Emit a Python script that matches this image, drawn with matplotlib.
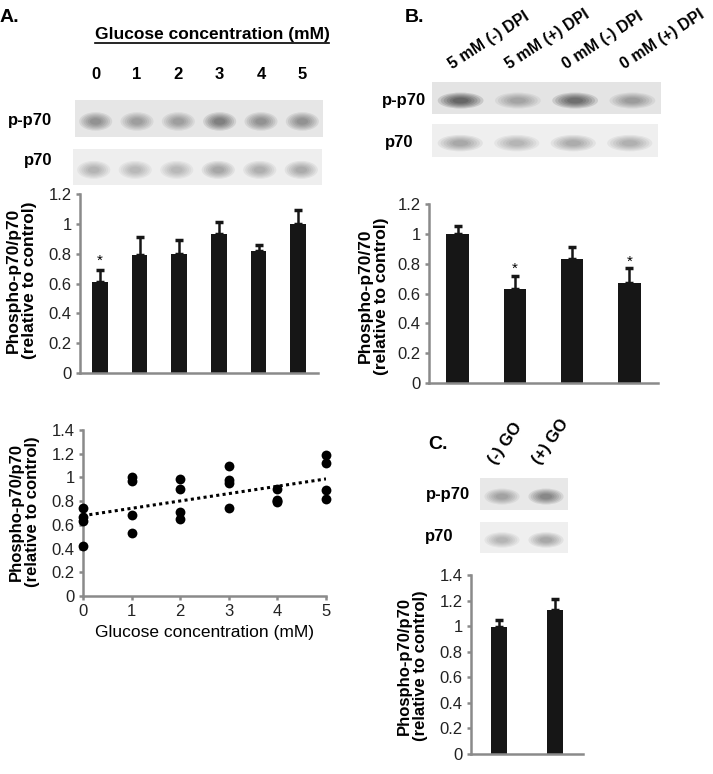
import numpy as np
import matplotlib.pyplot as plt
from matplotlib.patches import Ellipse, Rectangle

plt.rcParams['font.family'] = ['Liberation Sans', 'DejaVu Sans']

# Panel A - glucose dose response
glucose = [0, 1, 2, 3, 4, 5]
a_means = [0.61, 0.79, 0.80, 0.93, 0.82, 1.00]
a_err = [0.08, 0.12, 0.09, 0.08, 0.035, 0.09]
a_points = [[0.74, 0.67, 0.63, 0.42],
            [1.00, 0.97, 0.68, 0.53],
            [0.99, 0.90, 0.71, 0.65],
            [1.10, 0.98, 0.95, 0.74],
            [0.90, 0.81, 0.80, 0.79],
            [1.19, 1.12, 0.89, 0.82]]
a_pp70_bands = [0.35, 0.30, 0.30, 0.45, 0.35, 0.35]
a_p70_bands = [0.22, 0.20, 0.20, 0.28, 0.24, 0.26]

# Panel B - DPI treatment
b_labels = ['5 mM (-) DPI', '5 mM (+) DPI', '0 mM (-) DPI', '0 mM (+) DPI']
b_means = [1.00, 0.63, 0.83, 0.67]
b_err = [0.055, 0.09, 0.08, 0.10]
b_pp70_bands = [0.60, 0.25, 0.55, 0.30]
b_p70_bands = [0.28, 0.22, 0.26, 0.24]

# Panel C - glucose oxidase
c_labels = ['(-) GO', '(+) GO']
c_means = [0.99, 1.13]
c_err = [0.055, 0.085]
c_pp70_bands = [0.28, 0.42]
c_p70_bands = [0.22, 0.28]

W, H = 713, 774
fig = plt.figure(figsize=(W / 100, H / 100), dpi=100)
GRAY = '#8a8a8a'
BAR = '#161616'


def px_axes(x0, y0, x1, y1):
    return fig.add_axes([x0 / W, 1 - y1 / H, (x1 - x0) / W, (y1 - y0) / H])


def ftext(x, y, s, **kw):
    return fig.text(x / W, 1 - y / H, s, **kw)


def draw_blot(ax, levels, bg):
    n = len(levels)
    ax.set_xlim(-0.5, n - 0.5)
    ax.set_ylim(0, 1)
    ax.axis('off')
    ax.add_patch(Rectangle((-0.5, 0), n, 1, color=bg, lw=0))
    for i, lv in enumerate(levels):
        for k in range(6):
            sc = 1 - k * 0.13
            ax.add_patch(Ellipse((i, 0.42), 0.8 * sc, 0.5 * sc, color='k',
                                 alpha=lv / 5, lw=0))


def style(ax, fs=12):
    for s in ['top', 'right']:
        ax.spines[s].set_visible(False)
    for s in ['left', 'bottom']:
        ax.spines[s].set_color(GRAY)
        ax.spines[s].set_linewidth(1.8)
    ax.tick_params(direction='out', length=3, width=1.8, color=GRAY,
                   labelsize=fs, labelcolor='#222222', pad=3)
    ax.yaxis.set_major_formatter(plt.FuncFormatter(lambda v, p: f'{v:g}'))


def bars(ax, means, err, width):
    x = np.arange(len(means))
    ax.bar(x, means, width=width, color=BAR, zorder=2)
    ax.errorbar(x, means, yerr=[np.zeros(len(err)), err], fmt='none',
                ecolor=BAR, elinewidth=1.8, capsize=3, capthick=2.5, zorder=2)
    ax.set_xlim(-0.5, len(means) - 0.5)
    ax.set_xticks([])


# ---------- A: blots ----------
ftext(0, 18, 'A.', fontsize=14, fontweight='bold', va='center')
ftext(212, 35, 'Glucose concentration (mM)', fontsize=12.5, fontweight='bold',
      ha='center', va='center')
fig.add_artist(plt.Line2D([95 / W, 329 / W], [1 - 43 / H, 1 - 43 / H],
                          color='k', lw=1.2))
ax = px_axes(75, 100, 323, 137)
draw_blot(ax, a_pp70_bands, '#e6e6e6')
for i, g in enumerate(glucose):
    ax.text(i, 1.68, str(g), ha='center', va='center', fontsize=12,
            fontweight='bold')
ax = px_axes(73, 149, 322, 185)
draw_blot(ax, a_p70_bands, '#eeeeee')
ftext(52, 120, 'p-p70', fontsize=12, fontweight='bold', ha='right', va='center')
ftext(52, 161, 'p70', fontsize=12, fontweight='bold', ha='right', va='center')

# ---------- A: bar chart ----------
ax = px_axes(80, 194, 318, 373)
bars(ax, a_means, a_err, 0.39)
ax.set_ylim(0, 1.2)
ax.set_yticks(np.arange(0, 1.21, 0.2))
style(ax)
ax.text(0, a_means[0] + a_err[0] + 0.065, '*', ha='center', va='center',
        fontsize=11)
ftext(21, 280, 'Phospho-p70/p70\n(relative to control)', fontsize=12.5,
      fontweight='bold', rotation=90, ha='center', va='center',
      multialignment='center', linespacing=1.1)

# ---------- A: scatter ----------
ax = px_axes(83, 430, 326, 596)
for g, pts in zip(glucose, a_points):
    ax.scatter([g] * len(pts), pts, s=50, color='black', zorder=3,
               clip_on=False, linewidths=0)
all_x = np.repeat(glucose, [len(p) for p in a_points])
all_y = np.concatenate(a_points)
slope, icpt = np.polyfit(all_x, all_y, 1)
xs = np.array([0, 5])
ax.plot(xs, icpt + slope * xs, color='black', lw=2.2, ls=(0, (1, 1.1)))
ax.set_xlim(0, 5)
ax.set_ylim(0, 1.4)
ax.set_xticks(glucose)
ax.set_yticks(np.arange(0, 1.41, 0.2))
style(ax)
ax.set_xlabel('Glucose concentration (mM)', fontsize=12.5, labelpad=4)
ftext(24, 512, 'Phospho-p70/p70\n(relative to control)', fontsize=12,
      fontweight='bold', rotation=90, ha='center', va='center',
      multialignment='center', linespacing=1.1)

# ---------- B ----------
ftext(405, 18, 'B.', fontsize=14, fontweight='bold', va='center')
ax = px_axes(432, 82, 661, 114)
draw_blot(ax, b_pp70_bands, '#e4e4e4')
for i, lab in enumerate(b_labels):
    ax.text(i - 0.12, 1.3, lab, rotation=33, rotation_mode='anchor',
            ha='left', va='bottom', fontsize=11.5, fontweight='bold')
ax = px_axes(432, 124, 658, 157)
draw_blot(ax, b_p70_bands, '#efefef')
ftext(426, 100, 'p-p70', fontsize=12, fontweight='bold', ha='right', va='center')
ftext(413, 142, 'p70', fontsize=12, fontweight='bold', ha='right', va='center')

ax = px_axes(429, 204, 658, 383)
bars(ax, b_means, b_err, 0.39)
ax.set_ylim(0, 1.2)
ax.set_yticks(np.arange(0, 1.21, 0.2))
style(ax)
for i in [1, 3]:
    ax.text(i, b_means[i] + b_err[i] + 0.045, '*', ha='center', va='center',
            fontsize=11)
ftext(373, 296, 'Phospho-p70/70\n(relative to control)', fontsize=12.5,
      fontweight='bold', rotation=90, ha='center', va='center',
      multialignment='center', linespacing=1.1)

# ---------- C ----------
ftext(428, 445, 'C.', fontsize=14, fontweight='bold', va='center')
ax = px_axes(480, 478, 568, 510)
draw_blot(ax, c_pp70_bands, '#e8e8e8')
for i, lab in enumerate(c_labels):
    ax.text(i - 0.1, 1.35, lab, rotation=55, rotation_mode='anchor',
            ha='left', va='bottom', fontsize=12, fontweight='bold')
ax = px_axes(480, 522, 568, 553)
draw_blot(ax, c_p70_bands, '#efefef')
ftext(470, 494, 'p-p70', fontsize=12, fontweight='bold', ha='right', va='center')
ftext(453, 537, 'p70', fontsize=12, fontweight='bold', ha='right', va='center')

ax = px_axes(471, 575, 583, 754)
bars(ax, c_means, c_err, 0.3)
ax.set_ylim(0, 1.4)
ax.set_yticks(np.arange(0, 1.41, 0.2))
style(ax)
ftext(412, 666, 'Phospho-p70/p70\n(relative to control)', fontsize=12,
      fontweight='bold', rotation=90, ha='center', va='center',
      multialignment='center', linespacing=1.1)

fig.savefig('out.png', dpi=100)
